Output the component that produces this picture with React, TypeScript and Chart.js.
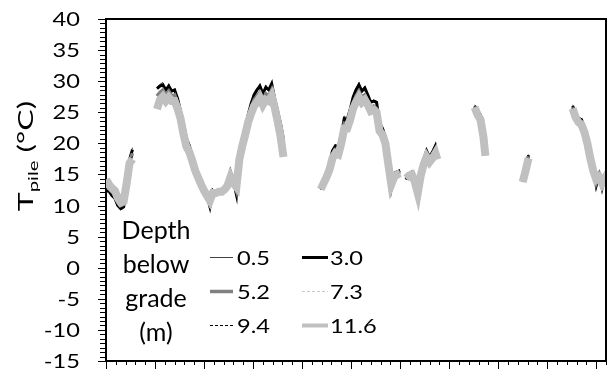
import React, { useEffect, useRef } from 'react';
import { Chart, registerables } from 'chart.js';

Chart.register(...registerables);

const _ = null;

// time axis (minor-tick units), null entries mark data gaps
const tMonths = [
  0, 0.3, 0.6, 0.9, 1.2, 1.5, 1.8, 2.1, 2.4, 2.7,
  4.0,
  5.2, 5.5, 5.8, 6.1, 6.4, 6.7, 7.0, 7.3, 7.6, 7.9, 8.2, 8.5, 8.8, 9.1, 9.4, 9.7, 10.0, 10.3, 10.6, 10.9, 11.2, 11.5,
  11.8, 12.1, 12.4, 12.7, 13.0, 13.3, 13.6, 13.9, 14.2, 14.5, 14.8, 15.1, 15.4, 15.7, 16.0, 16.3, 16.6, 16.9, 17.2,
  17.5, 17.8, 18.1,
  20.0,
  21.9, 22.2, 22.5, 22.8, 23.1, 23.4, 23.7, 24.0, 24.3, 24.6, 24.9, 25.2, 25.5, 25.8, 26.1, 26.4, 26.7, 27.0, 27.3,
  27.6, 27.9, 28.2, 28.5, 28.8, 29.1, 29.4, 29.7, 30.0,
  30.3,
  30.6, 30.9, 31.2, 31.5, 31.8, 32.1, 32.4, 32.7, 33.0, 33.3, 33.6, 33.8,
  35.7,
  37.6, 37.9, 38.2, 38.5, 38.7,
  40.6,
  42.5, 42.8, 43.1,
  45.3,
  47.6, 47.9, 48.2, 48.5, 48.8, 49.1, 49.4, 49.7, 50.0, 50.3, 50.6, 50.9, 51.0,
];

const depth05 = [
  12.2, 12.4, 11.4, 11.0, 9.8, 9.3, 9.6, 13.0, 17.6, 19.3,
  _,
  29.0, 29.5, 29.8, 28.5, 29.6, 28.3, 28.8, 27.2, 25.3, 23.3, 20.6, 19.8, 18.2, 16.2, 15.0, 13.8, 12.4, 11.4, 9.4, 12.6,
  12.0, 12.4, 12.0, 12.8, 13.5, 15.6, 14.0, 11.4, 18.8, 21.0, 22.8, 24.8, 26.6, 28.0, 28.7, 29.6, 27.8, 29.4, 28.6, 29.9,
  27.0, 25.2, 23.4, 21.0,
  _,
  12.6, 14.0, 15.2, 17.0, 19.0, 19.8, 19.6, 21.6, 24.4, 24.0, 25.6, 27.6, 28.8, 29.8, 28.3, 29.2, 27.8, 26.6, 27.0, 26.8,
  23.3, 22.6, 21.2, 17.5, 12.6, 15.4, 15.6, 15.8,
  _,
  14.2, 15.2, 15.6, 14.2, 11.2, 15.6, 17.6, 19.0, 18.0, 18.8, 19.8, 18.4,
  _,
  26.2, 25.4, 24.8, 21.5, 18.4,
  _,
  13.8, 15.8, 18.2,
  _,
  26.2, 25.0, 24.2, 24.0, 22.4, 20.6, 18.0, 16.0, 13.0, 15.0, 12.6, 14.8, 14.4,
];

const depth30 = [
  12.4, 12.3, 11.6, 11.2, 10.0, 9.5, 9.8, 13.0, 17.4, 19.0,
  _,
  28.8, 29.2, 29.4, 28.6, 29.2, 28.4, 28.6, 27.2, 25.2, 23.2, 20.8, 19.6, 18.0, 16.2, 14.9, 13.7, 12.4, 11.5, 9.8, 12.4,
  12.0, 12.3, 12.0, 12.7, 13.4, 15.4, 13.9, 11.8, 18.6, 20.8, 22.6, 24.6, 26.4, 27.8, 28.6, 29.2, 28.0, 29.0, 28.6, 29.6,
  27.2, 25.2, 23.2, 20.6,
  _,
  12.6, 13.9, 15.0, 16.8, 18.8, 19.6, 19.4, 21.4, 24.0, 23.8, 25.4, 27.4, 28.6, 29.4, 28.4, 28.9, 27.8, 26.6, 26.8, 26.6,
  23.2, 22.4, 21.0, 17.4, 12.8, 15.2, 15.4, 15.6,
  _,
  14.2, 15.1, 15.4, 14.1, 11.4, 15.4, 17.4, 18.8, 17.8, 18.6, 19.6, 18.2,
  _,
  26.0, 25.2, 24.6, 21.4, 18.3,
  _,
  13.8, 15.7, 18.1,
  _,
  26.0, 24.8, 24.0, 23.8, 22.3, 20.5, 17.9, 15.9, 13.2, 14.9, 12.8, 14.7, 14.3,
];

const depth52 = [
  13.2, 12.8, 12.2, 11.8, 10.6, 10.0, 10.2, 13.2, 17.0, 18.4,
  _,
  27.6, 28.2, 28.6, 27.8, 28.4, 27.6, 27.8, 26.4, 24.6, 22.4, 20.2, 19.2, 17.6, 15.9, 14.7, 13.6, 12.4, 11.5, 10.3, 12.2,
  12.0, 12.3, 12.1, 12.7, 13.3, 15.0, 13.8, 12.4, 18.0, 20.2, 22.0, 24.0, 25.6, 27.0, 27.6, 28.2, 27.0, 28.0, 27.6, 28.6,
  26.6, 24.4, 22.4, 19.4,
  _,
  12.6, 13.8, 14.8, 16.4, 18.2, 19.0, 18.8, 20.8, 23.2, 23.0, 24.6, 26.4, 27.6, 28.4, 27.4, 27.8, 26.8, 25.8, 26.0, 25.6,
  22.6, 21.8, 20.4, 17.0, 13.0, 14.9, 15.2, 15.4,
  _,
  14.3, 15.0, 15.2, 14.0, 11.6, 15.1, 17.0, 18.2, 17.4, 18.0, 18.9, 17.8,
  _,
  25.9, 24.9, 24.2, 21.2, 18.2,
  _,
  13.8, 15.7, 17.9,
  _,
  25.8, 24.5, 23.7, 23.4, 22.0, 20.2, 17.8, 15.8, 13.6, 14.8, 13.1, 14.6, 14.2,
];

const depth73 = [
  13.8, 13.2, 12.6, 12.2, 11.0, 10.3, 10.5, 13.4, 16.9, 17.8,
  _,
  26.2, 27.4, 27.8, 27.0, 27.6, 27.0, 27.0, 25.8, 24.2, 21.8, 19.8, 18.8, 17.3, 15.7, 14.6, 13.5, 12.4, 11.6, 10.6, 12.1,
  12.0, 12.2, 12.2, 12.6, 13.2, 14.8, 13.7, 12.8, 17.6, 19.8, 21.6, 23.6, 25.0, 26.2, 26.8, 27.5, 26.4, 27.2, 27.0, 27.8,
  26.0, 23.8, 21.6, 18.4,
  _,
  12.6, 13.7, 14.7, 16.0, 17.8, 18.6, 18.4, 20.2, 22.6, 22.6, 24.0, 25.8, 26.8, 27.6, 26.8, 27.2, 26.4, 25.4, 25.6, 25.2,
  22.2, 21.6, 20.2, 16.8, 13.2, 14.7, 15.1, 15.3,
  _,
  14.4, 14.9, 15.1, 13.9, 11.8, 14.9, 16.8, 18.0, 17.2, 17.8, 18.6, 17.6,
  _,
  25.8, 24.7, 23.9, 21.1, 18.1,
  _,
  13.8, 15.6, 17.7,
  _,
  25.7, 24.3, 23.5, 23.1, 21.9, 20.1, 17.7, 15.7, 13.9, 14.7, 13.4, 14.5, 14.1,
];

const depth94 = [
  13.6, 13.1, 12.5, 12.1, 10.9, 10.2, 10.4, 13.3, 16.8, 17.9,
  _,
  26.4, 27.5, 27.9, 27.2, 27.8, 27.1, 27.2, 26.0, 24.3, 22.0, 19.9, 18.9, 17.4, 15.7, 14.6, 13.5, 12.4, 11.6, 10.6, 12.1,
  12.0, 12.2, 12.2, 12.6, 13.2, 14.8, 13.7, 12.7, 17.7, 19.9, 21.7, 23.7, 25.2, 26.4, 27.0, 27.7, 26.6, 27.4, 27.1, 28.0,
  26.2, 24.0, 21.8, 18.6,
  _,
  12.6, 13.7, 14.7, 16.1, 17.9, 18.7, 18.5, 20.4, 22.8, 22.7, 24.2, 26.0, 27.0, 27.8, 27.0, 27.4, 26.5, 25.5, 25.7, 25.3,
  22.3, 21.6, 20.2, 16.8, 13.2, 14.7, 15.1, 15.3,
  _,
  14.4, 14.9, 15.1, 13.9, 11.8, 14.9, 16.8, 18.0, 17.2, 17.8, 18.6, 17.6,
  _,
  25.8, 24.7, 24.0, 21.1, 18.1,
  _,
  13.8, 15.6, 17.7,
  _,
  25.7, 24.3, 23.5, 23.1, 21.9, 20.1, 17.7, 15.7, 13.9, 14.7, 13.4, 14.5, 14.1,
];

const depth116 = [
  14.2, 13.4, 12.8, 12.4, 11.2, 10.5, 10.7, 13.5, 16.8, 17.5,
  _,
  25.5, 27.0, 27.5, 26.8, 27.4, 26.8, 26.8, 25.6, 24.0, 21.5, 19.5, 18.6, 17.2, 15.6, 14.5, 13.4, 12.4, 11.6, 10.8, 12.0,
  12.0, 12.2, 12.2, 12.6, 13.2, 14.6, 13.6, 13.0, 17.4, 19.6, 21.4, 23.4, 24.8, 26.0, 26.6, 27.3, 26.2, 27.0, 26.8, 27.6,
  25.8, 23.6, 21.2, 17.8,
  _,
  12.6, 13.6, 14.6, 15.8, 17.6, 18.4, 18.2, 20.0, 22.4, 22.4, 23.8, 25.6, 26.6, 27.4, 26.6, 27.0, 26.2, 25.2, 25.4, 25.0,
  22.0, 21.4, 20.0, 16.6, 13.4, 14.6, 15.0, 15.2,
  _,
  14.4, 14.8, 15.0, 13.8, 12.0, 14.8, 16.6, 17.8, 17.0, 17.6, 18.4, 17.4,
  _,
  25.8, 24.6, 23.8, 21.0, 18.0,
  _,
  13.8, 15.6, 17.6,
  _,
  25.6, 24.2, 23.4, 23.0, 21.8, 20.0, 17.6, 15.6, 14.2, 14.6, 13.6, 14.4, 14.0,
];

const depthLabels = ['0.5', '3.0', '5.2', '7.3', '9.4', '11.6'];
const depthSeries = [depth05, depth30, depth52, depth73, depth94, depth116];
const yTickValues = [-15, -10, -5, 0, 5, 10, 15, 20, 25, 30, 35, 40];
const legendTitleLines = ['Depth', 'below', 'grade', '(m)'];
const yTitleMain = 'T';
const yTitleSub = 'pile';
const yTitleRest = ' (°C)';

const seriesStyles = [
  { color: '#404040', width: 1, dash: [] as number[] },
  { color: '#000000', width: 3, dash: [] as number[] },
  { color: '#808080', width: 3.5, dash: [] as number[] },
  { color: '#C8C8C8', width: 1, dash: [3, 2] },
  { color: '#000000', width: 1, dash: [3, 2] },
  { color: '#C0C0C0', width: 8, dash: [] as number[] },
];

const FONT = 'Lato, "Open Sans", sans-serif';
const STRETCH = 1.18;

function drawText(ctx: CanvasRenderingContext2D, text: string, x: number, y: number, size: number, align: CanvasTextAlign, stretch: number) {
  ctx.save();
  ctx.translate(x, y);
  ctx.scale(stretch, 1);
  ctx.font = `${size}px ${FONT}`;
  ctx.textAlign = align;
  ctx.textBaseline = 'alphabetic';
  ctx.fillStyle = '#000';
  ctx.fillText(text, 0, 0);
  ctx.restore();
}

const decorPlugin = {
  id: 'decor',
  afterDraw(chart: any) {
    const ctx: CanvasRenderingContext2D = chart.ctx;
    const a = chart.chartArea;
    const xs = chart.scales.x;
    const ys = chart.scales.y;
    ctx.save();
    // top and right frame
    ctx.strokeStyle = '#000';
    ctx.lineWidth = 2;
    ctx.beginPath();
    ctx.moveTo(a.left, a.top);
    ctx.lineTo(a.right, a.top);
    ctx.lineTo(a.right, a.bottom);
    ctx.stroke();

    // y ticks (7 minor per major)
    ctx.lineWidth = 1;
    const yMin = ys.min, yMax = ys.max;
    const minorY = 5 / 7;
    const nY = Math.round((yMax - yMin) / minorY);
    for (let k = 0; k <= nY; k++) {
      const v = yMin + k * minorY;
      const py = Math.round(ys.getPixelForValue(v)) + 0.5;
      const len = k % 7 === 0 ? 8 : 6;
      ctx.beginPath();
      ctx.moveTo(a.left - len, py);
      ctx.lineTo(a.left, py);
      ctx.stroke();
    }
    // x ticks
    for (let k = Math.ceil(xs.min); k <= xs.max; k++) {
      const px = Math.round(xs.getPixelForValue(k)) + 0.5;
      const len = k % 5 === 0 ? 8 : 4;
      ctx.beginPath();
      ctx.moveTo(px, a.bottom);
      ctx.lineTo(px, a.bottom + len);
      ctx.stroke();
    }
    // y tick labels
    for (const v of yTickValues) {
      const py = ys.getPixelForValue(v);
      drawText(ctx, String(v), a.left - 26, py + 7, 20, 'right', STRETCH);
    }
    // y axis title (rotated)
    ctx.save();
    ctx.translate(33, 156);
    ctx.rotate(-Math.PI / 2);
    const along = 1.45;
    ctx.scale(along, 1);
    ctx.fillStyle = '#000';
    ctx.textBaseline = 'alphabetic';
    ctx.textAlign = 'left';
    ctx.font = `22px ${FONT}`;
    const wT = ctx.measureText(yTitleMain).width;
    const wR = ctx.measureText(yTitleRest).width;
    ctx.font = `14px ${FONT}`;
    const wS = ctx.measureText(yTitleSub).width;
    const start = -(wT + wS + wR) / 2;
    ctx.font = `22px ${FONT}`;
    ctx.fillText(yTitleMain, start, 0);
    ctx.font = `14px ${FONT}`;
    ctx.fillText(yTitleSub, start + wT, 5);
    ctx.font = `22px ${FONT}`;
    ctx.fillText(yTitleRest, start + wT + wS, 0);
    ctx.restore();

    // legend title
    const titleBase = [239, 273, 307, 341];
    legendTitleLines.forEach((t, i) => drawText(ctx, t, 156, titleBase[i], 25, 'center', 1));
    // legend entries
    const rowBase = [265, 299, 333];
    const cols = [
      { x0: 210, x1: 233, tx: 237 },
      { x0: 302, x1: 328, tx: 330 },
    ];
    chart.data.datasets.forEach((ds: any, i: number) => {
      const c = cols[i % 2];
      const yb = rowBase[Math.floor(i / 2)];
      const ly = yb - 7.5;
      ctx.save();
      ctx.strokeStyle = ds.borderColor;
      ctx.lineWidth = Math.min(ds.borderWidth, 4);
      ctx.setLineDash(ds.borderDash || []);
      ctx.beginPath();
      ctx.moveTo(c.x0, ly);
      ctx.lineTo(c.x1, ly);
      ctx.stroke();
      ctx.restore();
      drawText(ctx, ds.label, c.tx, yb, 20, 'left', STRETCH);
    });
    ctx.restore();
  },
};

export default function App() {
  const canvasRef = useRef<HTMLCanvasElement | null>(null);
  useEffect(() => {
    document.body.style.margin = '0';
    const canvas = canvasRef.current;
    if (!canvas) return;
    const datasets = depthSeries.map((vals, i) => ({
      label: depthLabels[i],
      data: tMonths.map((t, j) => ({ x: t, y: vals[j] })),
      borderColor: seriesStyles[i].color,
      borderWidth: seriesStyles[i].width,
      borderDash: seriesStyles[i].dash,
      pointRadius: 0,
      tension: 0,
      spanGaps: false,
      fill: false,
      order: depthSeries.length - 1 - i,
      clip: 0,
    }));
    const chart = new Chart(canvas, {
      type: 'line',
      data: { datasets } as any,
      options: {
        animation: false,
        responsive: false,
        maintainAspectRatio: false,
        layout: { padding: { left: 0, right: 9, top: 19, bottom: 0 } },
        plugins: { legend: { display: false }, tooltip: { enabled: false } },
        scales: {
          x: {
            type: 'linear',
            min: 0,
            max: 51,
            ticks: { display: false },
            grid: { display: false, drawTicks: false },
            border: { display: true, color: '#000', width: 2 },
            afterFit: (s: any) => { s.height = 10; },
          },
          y: {
            type: 'linear',
            min: -15,
            max: 40,
            ticks: { display: false, stepSize: 5 },
            grid: { display: false, drawTicks: false },
            border: { display: true, color: '#000', width: 2 },
            afterFit: (s: any) => { s.width = 106; },
          },
        },
      } as any,
      plugins: [decorPlugin],
    });
    return () => chart.destroy();
  }, []);
  return (
    <div style={{ width: 615, height: 371, background: '#fff' }}>
      <canvas ref={canvasRef} width={615} height={371} style={{ display: 'block' }} />
    </div>
  );
}
